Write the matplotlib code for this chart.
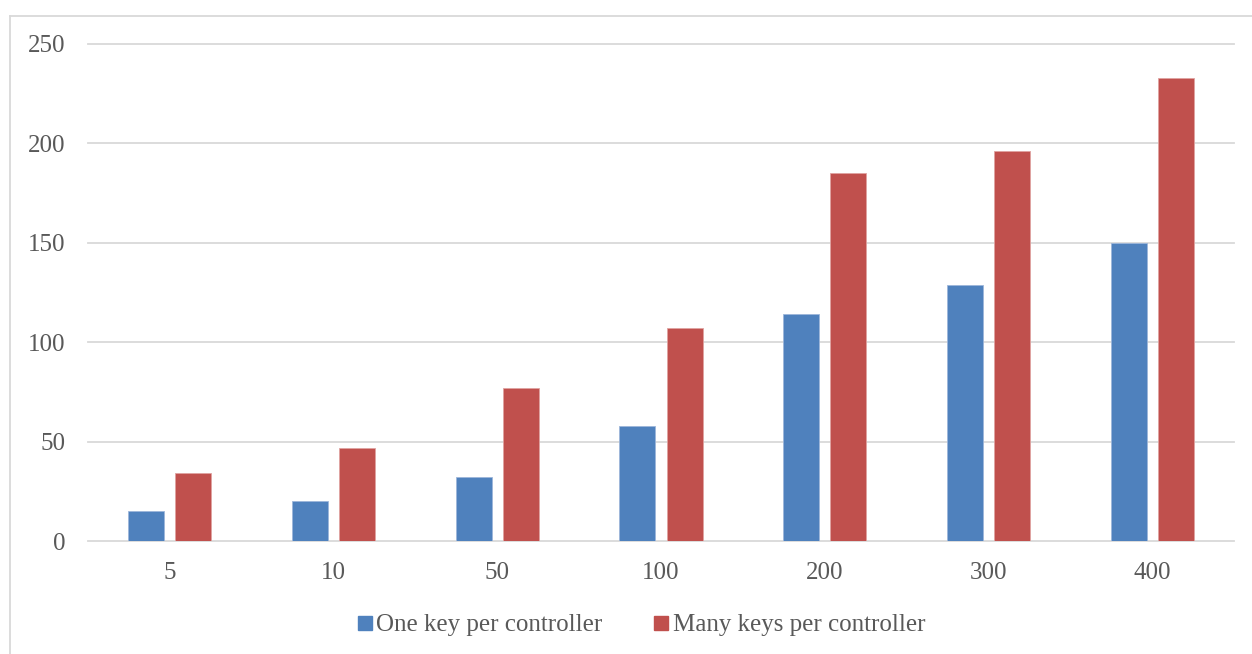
import matplotlib
matplotlib.use("Agg")
import matplotlib.pyplot as plt
from matplotlib.lines import Line2D
import numpy as np

categories = ["5", "10", "50", "100", "200", "300", "400"]
one_key = [15, 20, 32, 58, 114, 129, 150]
many_keys = [34, 47, 77, 107, 185, 196, 233]
series_names = ["One key per controller", "Many keys per controller"]
y_ticks = [0, 50, 100, 150, 200, 250]

BLUE = "#4F81BD"
RED = "#C0504D"
GRID = "#D9D9D9"
TEXT = "#595959"

plt.rcParams["font.family"] = ["Liberation Serif", "DejaVu Serif"]

W, H = 1252, 654
fig = plt.figure(figsize=(W / 100, H / 100), dpi=100)
fig.patch.set_facecolor("white")

# plot area in pixel terms
left, right, top, bottom = 88, 1234, 44, 541
ax = fig.add_axes([left / W, 1 - bottom / H, (right - left) / W, (bottom - top) / H])

x = np.arange(len(categories))
width = 0.22
offset = 0.144
ax.bar(x - offset, one_key, width, color=BLUE, edgecolor="#9DB6DA",
       linewidth=0.6, label=series_names[0], zorder=3)
ax.bar(x + offset, many_keys, width, color=RED, edgecolor="#E0A3A1",
       linewidth=0.6, label=series_names[1], zorder=3)

ax.set_xlim(-0.5, len(categories) - 0.5)
ax.set_ylim(0, 250)
for yv in y_ticks:
    ax.axhline(yv, color=GRID, linewidth=1.3, zorder=1, clip_on=False)

ax.set_xticks(x)
ax.set_xticklabels(categories)
ax.set_yticks(y_ticks)
ax.tick_params(axis="both", length=0, labelsize=18, labelcolor=TEXT)
ax.tick_params(axis="y", pad=16)
ax.tick_params(axis="x", pad=15)
for s in ax.spines.values():
    s.set_visible(False)

# legend below the plot
handles = [
    Line2D([], [], marker="s", linestyle="none", markersize=9.5, color=BLUE),
    Line2D([], [], marker="s", linestyle="none", markersize=9.5, color=RED),
]
fig.legend(handles, series_names, loc="center",
           bbox_to_anchor=(642 / W, 1 - 625 / H), ncol=2, frameon=False,
           fontsize=18, labelcolor=TEXT, handlelength=0.5, handletextpad=0.2,
           columnspacing=2.1, borderpad=0)

# chart frame (top and left edges)
fig.add_artist(Line2D([9.5 / W, 9.5 / W], [0, 1 - 15.5 / H], transform=fig.transFigure,
                      color=GRID, linewidth=1.3))
fig.add_artist(Line2D([9.5 / W, 1], [1 - 15.5 / H, 1 - 15.5 / H], transform=fig.transFigure,
                      color=GRID, linewidth=1.3))

fig.savefig("out.png", dpi=100)
